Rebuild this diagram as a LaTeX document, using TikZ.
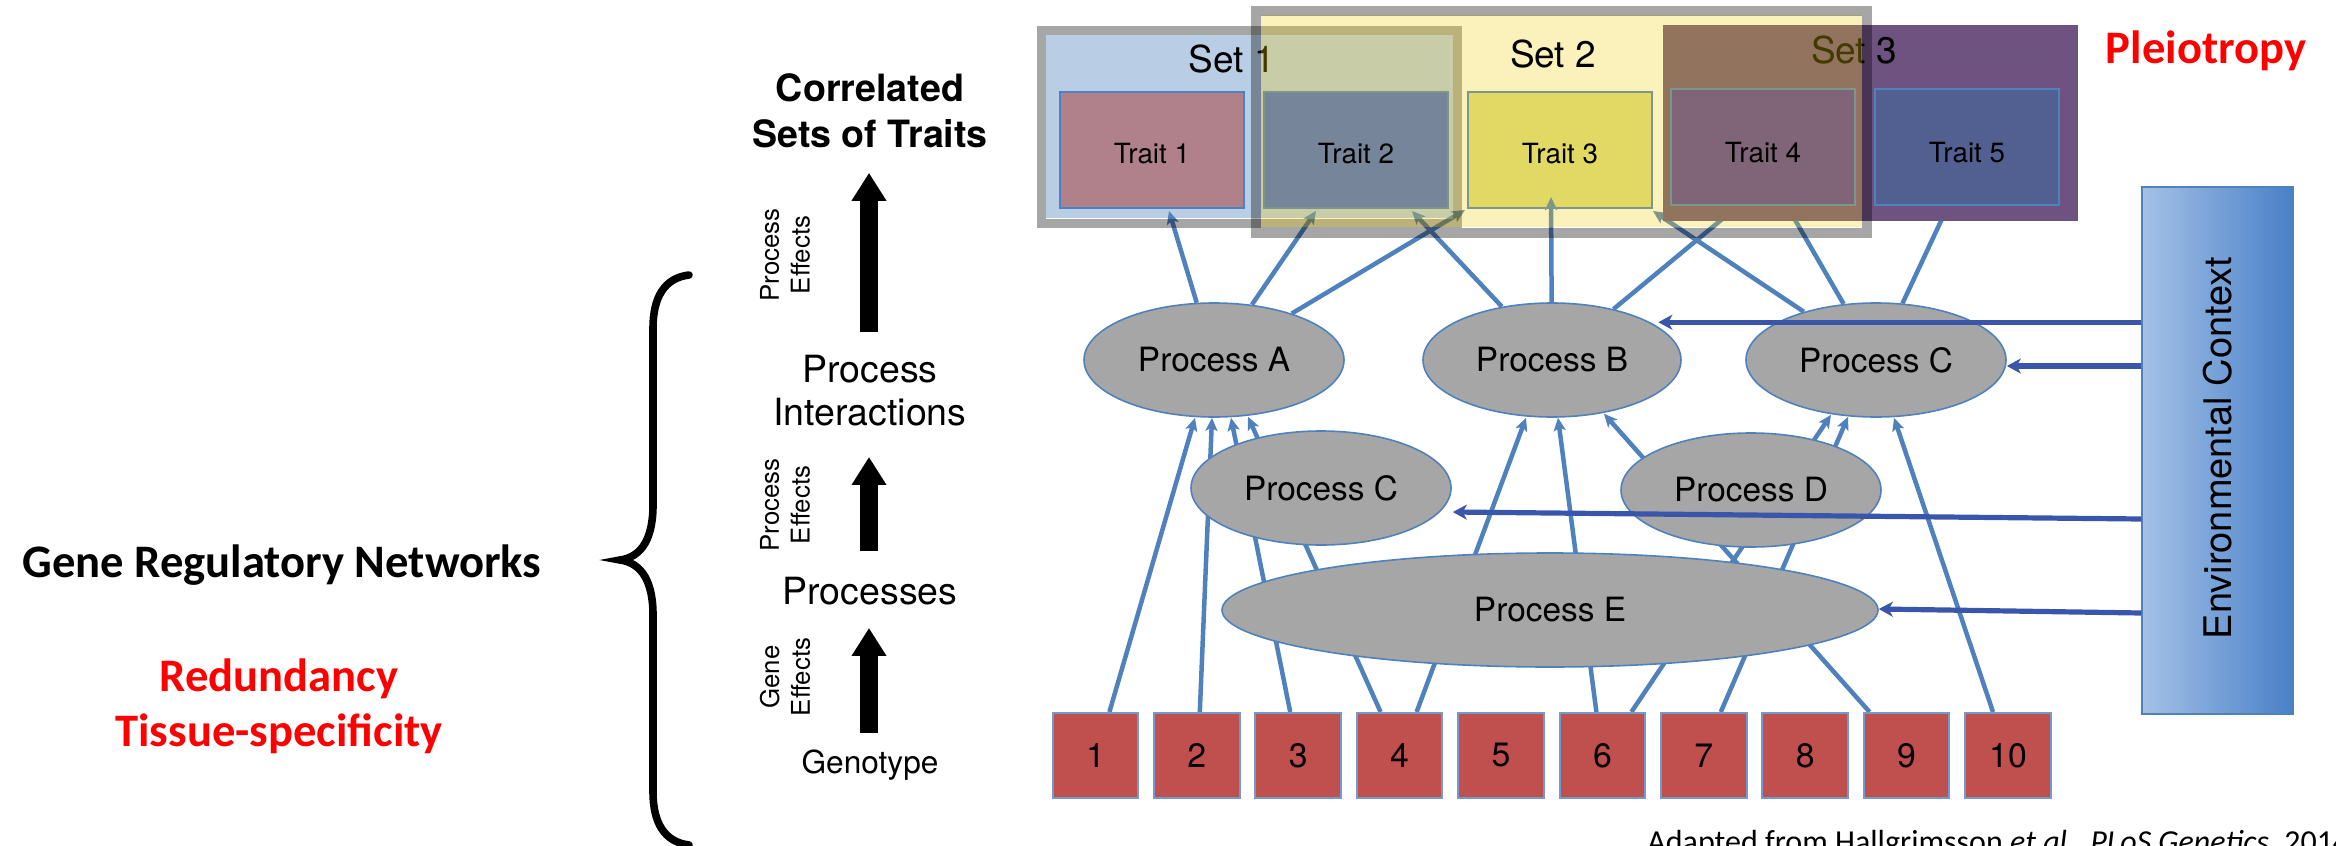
\documentclass[tikz,border=0pt]{standalone}
\usepackage{fontspec}
\setmainfont{TeX Gyre Heros}
\newfontfamily\calibfont{Carlito}
\usetikzlibrary{arrows.meta,calc,shapes.geometric}

\definecolor{linkblue}{RGB}{79,129,189}
\definecolor{envblue}{RGB}{58,86,170}
\definecolor{procgray}{RGB}{166,166,166}
\definecolor{genered}{RGB}{192,80,77}
\definecolor{setblue}{RGB}{185,205,228}
\definecolor{setpurple}{RGB}{110,82,128}
\definecolor{overlayyellow}{RGB}{241,205,9}
\definecolor{traitA}{RGB}{176,129,138}
\definecolor{traitB}{RGB}{73,106,210}
\definecolor{traitC}{RGB}{220,222,135}
\definecolor{traitD}{RGB}{84,61,162}
\definecolor{traitE}{RGB}{82,95,145}
\definecolor{envlight}{RGB}{165,193,230}
\definecolor{envdark}{RGB}{72,128,200}

\pgfdeclarelayer{setbase}
\pgfdeclarelayer{traitbase}
\pgfdeclarelayer{links}
\pgfdeclarelayer{upper}
\pgfsetlayers{setbase,traitbase,links,main,upper}

\tikzset{
  link/.style={draw=linkblue, line width=2.25pt, -{Stealth[length=6.5pt,width=6pt,inset=1.5pt]}},
  envlink/.style={draw=envblue, line width=2.6pt, -{Stealth[length=7pt,width=7.5pt,inset=2pt]}},
  proc/.style={ellipse, draw=linkblue, line width=0.8pt, fill=procgray, inner sep=0pt,
    minimum width=130pt, minimum height=57pt, font=\fontsize{16.7}{20}\selectfont},
  trait/.style={rectangle, draw=linkblue, line width=1pt, minimum width=92pt,
    minimum height=58pt, inner sep=0pt},
  traitlabel/.style={inner sep=0pt, font=\fontsize{13.9}{16}\selectfont},
  gene/.style={rectangle, draw=linkblue!80, line width=1pt, fill=genered,
    minimum width=42.75pt, minimum height=42.5pt, inner sep=0pt, font=\fontsize{16.9}{20}\selectfont},
  setlabel/.style={font=\fontsize{18.5}{22}\selectfont, inner sep=0pt},
  steplabel/.style={font=\fontsize{18.75}{22}\selectfont, inner sep=0pt},
  effectlabel/.style={rotate=90, align=center, font=\fontsize{12.9}{15.3}\selectfont, inner sep=0pt},
  bigarrow/.style={line width=9pt, -{Triangle[length=14pt,width=16.5pt]}},
  calibbold/.style={font=\calibfont\bfseries\fontsize{23.3}{28}\selectfont, inner sep=0pt},
}

\begin{document}
\begin{tikzpicture}[x=0.5pt, y=-0.5pt]
\useasboundingbox (0,0) rectangle (2336,846);
\clip (0,0) rectangle (2336,846);

% ---------- processes ----------
\node[proc] (A) at (1214,360) {Process A};
\node[proc, minimum width=129pt] (B) at (1552,360) {Process B};
\node[proc] (Cr) at (1876,360) {Process C};
\node[proc] (Cl) at (1321,488) {Process C};
\node[proc] (D) at (1751,490) {Process D};
\node[proc, minimum width=328pt] (E) at (1550,610) {Process E};

% ---------- genotype ----------
\foreach \i in {1,...,10}
  \node[gene] (g\i) at ({1095.4+(\i-1)*101.4},755.5) {\i};

% ---------- environment ----------
\node[draw=linkblue, line width=0.6pt, left color=envlight, right color=envdark,
  minimum width=75.5pt, minimum height=263.5pt, inner sep=0pt] (env) at (2217.5,450.5) {};
\node[rotate=90, inner sep=0pt, font=\fontsize{19}{23}\selectfont] (envtxt) at (2218,448) {Environmental Context};

\draw[envlink] (env.west |- B.21.6) -- ($(B.21.6)+(8,0)$);
\draw[envlink] ($(env.west |- Cr.east)+(0,6)$) -- ($(Cr.east)+(0,6)$);
\draw[envlink] ($(env.west)+(0,68.5)$) -- ($(Cl.east)+(1,24)$);
\draw[envlink] ($(env.west)+(0,162.5)$) -- ($(E.east)+(0,-1)$);

% ---------- trait sets ----------
\begin{pgfonlayer}{setbase}
  \fill[setblue] (1046,35) rectangle (1453,218);
\end{pgfonlayer}

\begin{pgfonlayer}{traitbase}
  \node[trait, fill=traitA] (T1) at (1152,150) {};
  \node[trait, fill=traitB] (T2) at (1356,150) {};
  \node[trait, fill=traitC] (T3) at (1560,150) {};
\end{pgfonlayer}

\begin{pgfonlayer}{upper}
  \fill[setpurple] (1663,25) rectangle (2078,221);
  \node[trait, fill=traitD] (T4) at (1763,147) {};
  \node[trait, fill=traitE] (T5) at (1967,147) {};
  \node[setlabel, anchor=base] (s3) at (1854,63) {Set 3};
  \node[setlabel, anchor=base] (s1) at (1232,72) {Set 1};
  \draw[black, draw opacity=0.35, line width=4.5pt] (1041,30.5) rectangle (1457.5,223);
  \fill[overlayyellow, fill opacity=0.28] (1261,15) rectangle (1862,227);
  \draw[black, draw opacity=0.35, line width=5pt] (1256,11) rectangle (1867,232.5);
  \node[setlabel, anchor=base] (s2) at (1553,67) {Set 2};
  % trait names, kept dark above the translucent set
  \node[traitlabel] (T1lab) at ($(T1.center)+(0,4)$) {Trait 1};
  \node[traitlabel] (T2lab) at ($(T2.center)+(0,4)$) {Trait 2};
  \node[traitlabel] (T3lab) at ($(T3.center)+(0,4)$) {Trait 3};
  \node[traitlabel] (T4lab) at ($(T4.center)+(0,6)$) {Trait 4};
  \node[traitlabel] (T5lab) at ($(T5.center)+(0,6)$) {Trait 5};
\end{pgfonlayer}

% ---------- effects ----------
\begin{pgfonlayer}{links}
  % genes to processes
  \draw[link] ($(g1.north)+(14,0)$) -- ($(A.south)+(-19,0)$);
  \draw[link] ($(g2.north)+(3,0)$) -- ($(A.south)+(-2,0)$);
  \draw[link] ($(g3.north)+(-8,0)$) -- ($(A.south)+(17,0)$);
  \draw[link] ($(g4.north)+(-19,0)$) -- ($(A.south)+(34,-1)$);
  \draw[link] ($(g4.north)+(17,0)$) -- ($(B.south)+(-26,0)$);
  \draw[link] ($(g6.north)+(-6,0)$) -- ($(B.south)+(6,0)$);
  \draw[link] ($(g9.north)+(-37,0)$) -- ($(B.south)+(52,-4)$);
  \draw[link] ($(g6.north)+(29,0)$) -- ($(Cr.south)+(-45,-3)$);
  \draw[link] ($(g7.north)+(17,0)$) -- ($(Cr.south)+(-28,-1)$);
  \draw[link] ($(g10.north)+(-15,0)$) -- ($(Cr.south)+(18,0)$);
  % processes to traits
  \draw[link] (A) -- ($(T1.south)+(17,2)$);
  \draw[link] (A) -- ($(T2.south)+(-40,2)$);
  \draw[link] (A) -- ($(T3.south west)+(-2,1)$);
  \draw[link] (B) -- ($(T2.south)+(56,2)$);
  \draw[link] (B) -- ($(T3.south)+(-9,-12)$);
  \draw[link] (B) -- ($(T4.south)+(-25,0)$);
  \draw[link] (Cr) -- ($(T3.south east)+(0,2)$);
  \draw[link] (Cr) -- ($(T4.south)+(24,0)$);
  \draw[link] (Cr) -- ($(T5.south)+(-19,0)$);
\end{pgfonlayer}

% ---------- level column ----------
\node[inner sep=0pt, font=\bfseries\fontsize{18.8}{22}\selectfont, anchor=base] (corr1) at (870,101) {Correlated};
\node[inner sep=0pt, font=\bfseries\fontsize{18.8}{22}\selectfont, anchor=base] (corr2) at (870,147) {Sets of Traits};
\node[steplabel, anchor=base] (pint1) at (870,382) {Process};
\node[steplabel, anchor=base] (pint2) at (870,425) {Interactions};
\node[steplabel, anchor=base] (procs) at (870,604) {Processes};
\node[inner sep=0pt, font=\fontsize{15.8}{19}\selectfont, anchor=base] (geno) at (870,773) {Genotype};

\draw[bigarrow] ($(pint1.north)+(-1,-22)$) -- ($(corr2.south)+(-1,25)$);
\draw[bigarrow] ($(procs.north)+(-1,-25)$) -- ($(pint2.south)+(-1,31)$);
\draw[bigarrow] ($(geno.north)+(-1,-16)$) -- ($(procs.south)+(-1,23)$);

\node[effectlabel] (pe1) at (785,255) {Process\\Effects};
\node[effectlabel] (pe2) at (785,505) {Process\\Effects};
\node[effectlabel] (ge) at (785,677) {Gene\\Effects};

% ---------- brace and side notes ----------
\draw[line width=3.8pt, line cap=round]
  (689,275) .. controls (664,278) and (653,298) .. (653,328) -- (653,505)
  .. controls (653,538) and (642,557) .. (620,560)
  .. controls (642,563) and (653,582) .. (653,615) -- (653,792)
  .. controls (653,822) and (664,842) .. (689,845);

\node[calibbold, anchor=base] (grn) at (282,577) {Gene Regulatory Networks};
\node[calibbold, text=red, anchor=base] (redund) at (279,691) {Redundancy};
\node[calibbold, text=red, anchor=base] (tissue) at (279,746) {Tissue-specificity};
\node[calibbold, text=red, anchor=base] (pleio) at (2206,63) {Pleiotropy};

\node[anchor=base west, inner sep=0pt, font=\calibfont\fontsize{16}{19}\selectfont] (cite) at (1647,852)
  {Adapted from Hallgrimsson \textit{et al.}, \textit{PLoS Genetics}, 2014};
\end{tikzpicture}
\end{document}
